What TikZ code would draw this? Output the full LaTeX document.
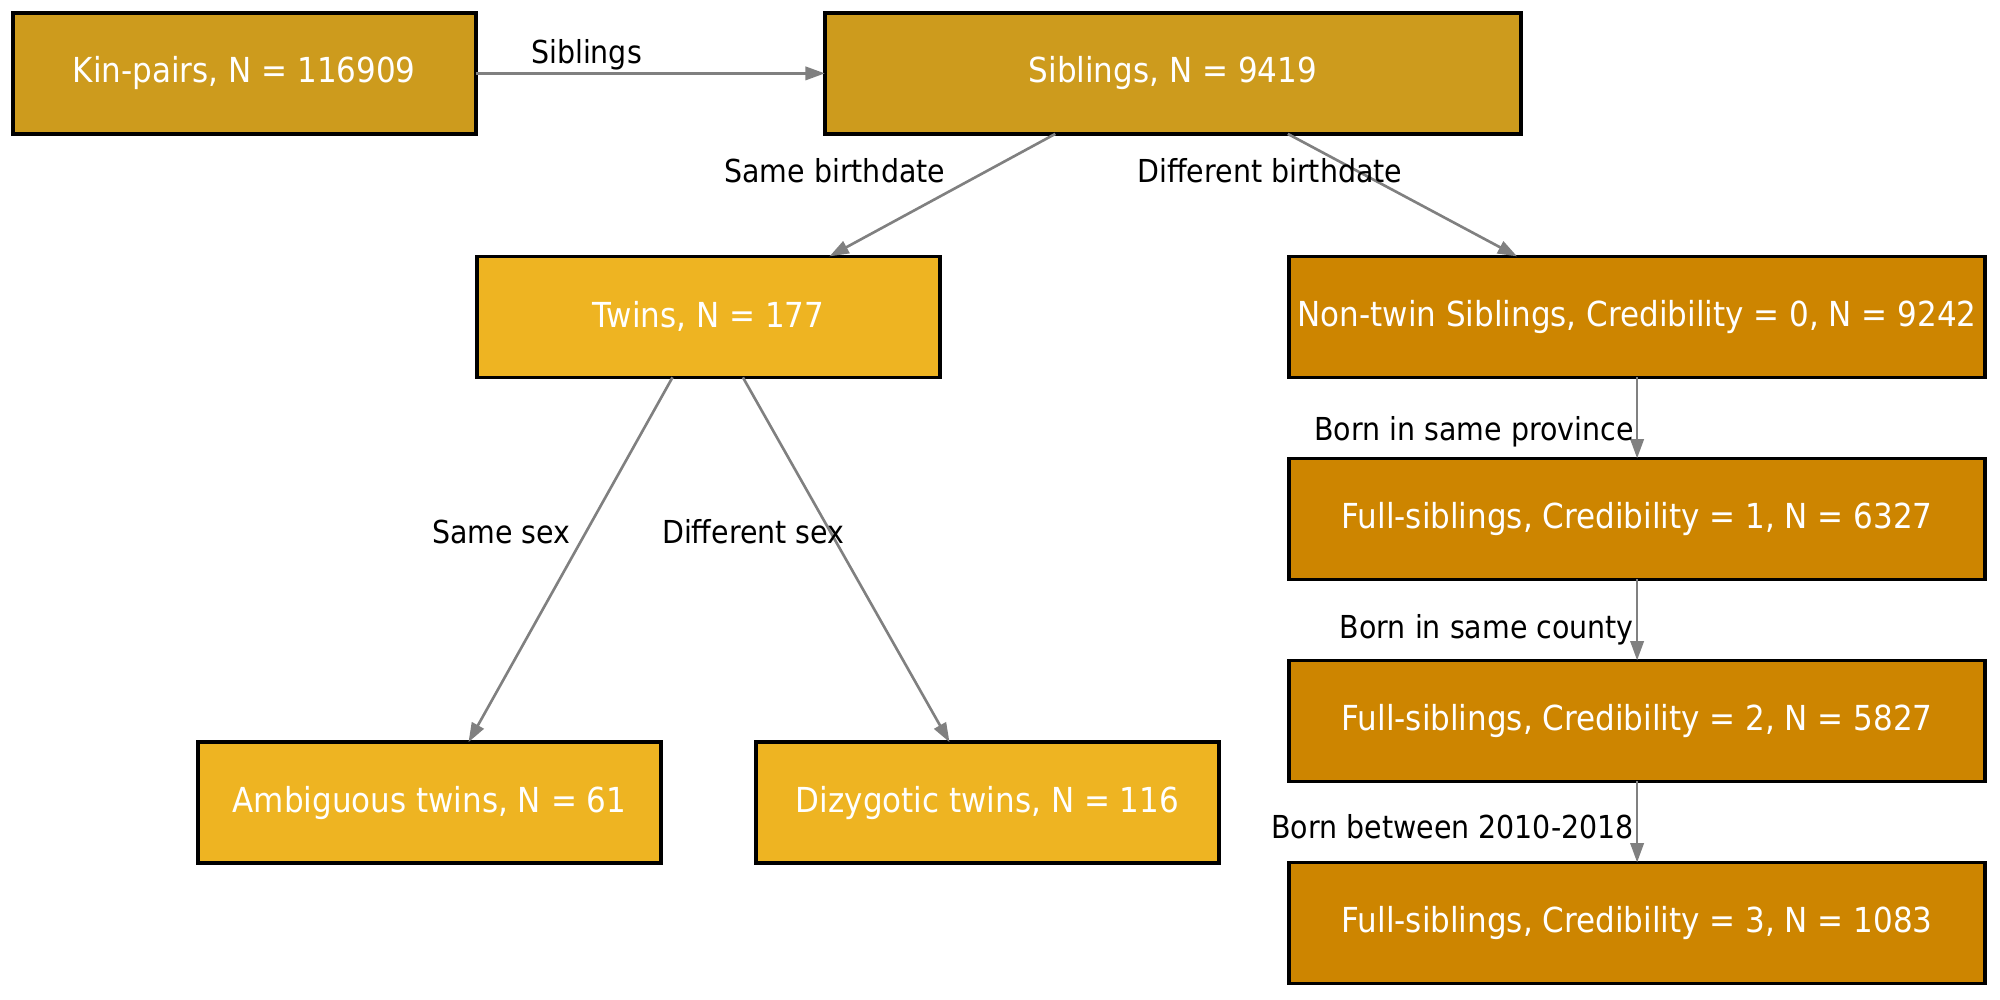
\documentclass[tikz,border=0pt]{standalone}
\usepackage{fontspec}
\setmainfont[FakeStretch=0.9]{DejaVu Sans}
\usetikzlibrary{arrows.meta, positioning, calc}
\definecolor{kincol}{HTML}{CD9B1D}
\definecolor{twincol}{HTML}{EEB422}
\definecolor{fullcol}{HTML}{CD8500}
\definecolor{edgecol}{HTML}{808080}

\begin{document}
\begin{tikzpicture}[
    node distance=0.81cm and 3.49cm,
    box/.style={rectangle, draw=black, line width=1pt, fill=kincol,
                text=white, minimum height=1.21cm, inner sep=0pt, outer sep=0pt,
                font=\fontsize{9.8}{12}\selectfont},
    narrowbox/.style={box, minimum width=4.63cm},
    widebox/.style={box, minimum width=6.96cm},
    elabel/.style={font=\fontsize{9}{11}\selectfont, inner sep=0pt, text=black},
    arrow/.style={-{Triangle[length=5.5pt, width=3.8pt]}, draw=edgecol, line width=0.75pt}
]
    \useasboundingbox (0,0) rectangle (20,-10);

    \node[narrowbox] (kin) at (2.443,-0.734) {Kin-pairs, N = 116909};
    \node[widebox] (siblings) [right=of kin] {Siblings, N = 9419};

    \node[narrowbox, fill=twincol] (twins) [below=1.225cm of siblings, xshift=-4.643cm]
        {Twins, N = 177};
    \node[widebox, fill=fullcol] (nontwin) [below=1.225cm of siblings, xshift=4.643cm]
        {Non-twin Siblings, Credibility = 0, N = 9242};

    \node[widebox, fill=fullcol] (cred1) [below=of nontwin] {Full-siblings, Credibility = 1, N = 6327};
    \node[widebox, fill=fullcol] (cred2) [below=of cred1] {Full-siblings, Credibility = 2, N = 5827};
    \node[widebox, fill=fullcol] (cred3) [below=of cred2] {Full-siblings, Credibility = 3, N = 1083};

    \node[narrowbox, fill=twincol] (ambig) [below=3.648cm of twins, xshift=-2.79cm]
        {Ambiguous twins, N = 61};
    \node[narrowbox, fill=twincol] (dizyg) [below=3.648cm of twins, xshift=2.79cm]
        {Dizygotic twins, N = 116};

    \draw[arrow] (kin) -- node[elabel, pos=0.317, anchor=base, yshift=0.1cm] {Siblings} (siblings);
    \draw[arrow] ($(siblings.south)+(-1.175,0)$) --
        node[elabel, pos=0.393, anchor=base east, xshift=-0.2cm] {Same birthdate}
        ($(twins.north)+(1.21,0)$);
    \draw[arrow] ($(siblings.south)+(1.15,0)$) --
        node[elabel, pos=0.393, anchor=base, xshift=-1.08cm] {Different birthdate}
        ($(nontwin.north)+(-1.2,0)$);
    \draw[arrow] ($(twins.south)+(-0.36,0)$) --
        node[elabel, pos=0.454, anchor=base east, xshift=-0.08cm] {Same sex}
        ($(ambig.north)+(0.39,0)$);
    \draw[arrow] ($(twins.south)+(0.344,0)$) --
        node[elabel, pos=0.454, anchor=base, xshift=-0.833cm] {Different sex}
        ($(dizyg.north)+(-0.38,0)$);
    \draw[arrow] (nontwin) -- node[elabel, pos=0.777, anchor=base east, xshift=-0.02cm] {Born in same province} (cred1);
    \draw[arrow] (cred1) -- node[elabel, pos=0.73, anchor=base east, xshift=-0.02cm] {Born in same county} (cred2);
    \draw[arrow] (cred2) -- node[elabel, pos=0.707, anchor=base east, xshift=-0.02cm] {Born between 2010-2018} (cred3);
\end{tikzpicture}
\end{document}
